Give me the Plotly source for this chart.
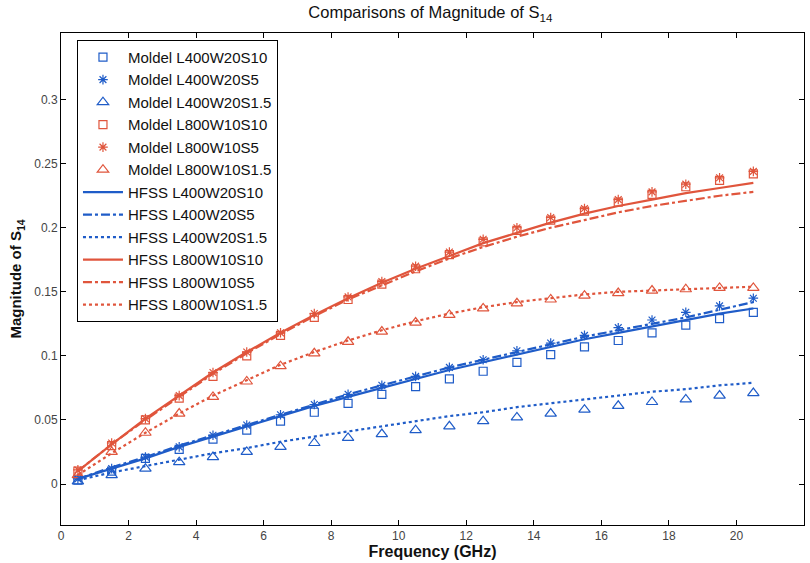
import plotly.graph_objects as go

freq = [0.5, 1.5, 2.5, 3.5, 4.5, 5.5, 6.5, 7.5, 8.5, 9.5, 10.5, 11.5, 12.5, 13.5, 14.5, 15.5, 16.5, 17.5, 18.5, 19.5, 20.5]

# Model (markers)
model_l400_s10 = [0.003, 0.010, 0.020, 0.027, 0.035, 0.042, 0.049, 0.056, 0.063, 0.070, 0.076, 0.082, 0.088, 0.095, 0.101, 0.107, 0.112, 0.118, 0.124, 0.129, 0.134]
model_l400_s5 = [0.004, 0.012, 0.021, 0.029, 0.038, 0.046, 0.054, 0.062, 0.070, 0.077, 0.084, 0.091, 0.097, 0.104, 0.110, 0.116, 0.122, 0.128, 0.134, 0.139, 0.145]
model_l400_s15 = [0.002, 0.007, 0.012, 0.017, 0.021, 0.025, 0.029, 0.032, 0.036, 0.039, 0.042, 0.045, 0.049, 0.052, 0.055, 0.058, 0.061, 0.064, 0.066, 0.069, 0.071]
model_l800_s10 = [0.010, 0.030, 0.050, 0.067, 0.084, 0.100, 0.116, 0.130, 0.144, 0.156, 0.168, 0.179, 0.189, 0.198, 0.206, 0.213, 0.220, 0.226, 0.232, 0.237, 0.242]
model_l800_s5 = [0.011, 0.032, 0.051, 0.069, 0.087, 0.103, 0.118, 0.133, 0.146, 0.158, 0.170, 0.181, 0.191, 0.200, 0.208, 0.215, 0.222, 0.228, 0.234, 0.239, 0.244]
model_l800_s15 = [0.007, 0.025, 0.040, 0.055, 0.068, 0.080, 0.092, 0.102, 0.111, 0.119, 0.126, 0.132, 0.137, 0.141, 0.144, 0.147, 0.149, 0.151, 0.152, 0.153, 0.153]

# HFSS (lines)
hfss_l400_s10 = [0.004, 0.012, 0.020, 0.029, 0.037, 0.045, 0.053, 0.061, 0.068, 0.075, 0.082, 0.089, 0.095, 0.101, 0.107, 0.113, 0.118, 0.123, 0.128, 0.133, 0.137]
hfss_l400_s5 = [0.004, 0.013, 0.021, 0.030, 0.038, 0.046, 0.054, 0.062, 0.070, 0.077, 0.084, 0.091, 0.097, 0.103, 0.109, 0.115, 0.120, 0.125, 0.130, 0.136, 0.142]
hfss_l400_s15 = [0.003, 0.009, 0.014, 0.019, 0.024, 0.028, 0.033, 0.037, 0.041, 0.045, 0.049, 0.053, 0.056, 0.060, 0.063, 0.066, 0.069, 0.072, 0.074, 0.077, 0.079]
hfss_l800_s10 = [0.010, 0.031, 0.051, 0.069, 0.087, 0.103, 0.118, 0.132, 0.145, 0.157, 0.168, 0.178, 0.188, 0.196, 0.204, 0.211, 0.217, 0.222, 0.227, 0.231, 0.235]
hfss_l800_s5 = [0.010, 0.031, 0.050, 0.068, 0.086, 0.102, 0.117, 0.131, 0.144, 0.155, 0.166, 0.176, 0.185, 0.193, 0.200, 0.206, 0.212, 0.217, 0.221, 0.225, 0.228]
hfss_l800_s15 = [0.007, 0.024, 0.040, 0.055, 0.069, 0.081, 0.093, 0.103, 0.112, 0.120, 0.127, 0.133, 0.138, 0.142, 0.145, 0.148, 0.150, 0.151, 0.152, 0.153, 0.154]

x_ticks = [0, 2, 4, 6, 8, 10, 12, 14, 16, 18, 20, 22]
y_ticks = [0, 0.05, 0.1, 0.15, 0.2, 0.25, 0.3]
y_tick_labels = ["0", "0.05", "0.1", "0.15", "0.2", "0.25", "0.3"]

BLUE = "#1f5cc8"
RED = "#e0553c"

fig = go.Figure()

models = [
    ("Moldel L400W20S10", model_l400_s10, BLUE, "square-open", 8),
    ("Moldel L400W20S5", model_l400_s5, BLUE, "asterisk-open", 8),
    ("Moldel L400W20S1.5", model_l400_s15, BLUE, "triangle-up-open", 10),
    ("Moldel L800W10S10", model_l800_s10, RED, "square-open", 8),
    ("Moldel L800W10S5", model_l800_s5, RED, "asterisk-open", 8),
    ("Moldel L800W10S1.5", model_l800_s15, RED, "triangle-up-open", 10),
]
for name, ys, col, sym, sz in models:
    fig.add_trace(go.Scatter(x=freq, y=ys, mode="markers", name=name,
                             marker=dict(symbol=sym, size=sz, color=col,
                                         line=dict(color=col, width=1.2))))

hfss = [
    ("HFSS L400W20S10", hfss_l400_s10, BLUE, "solid"),
    ("HFSS L400W20S5", hfss_l400_s5, BLUE, "dashdot"),
    ("HFSS L400W20S1.5", hfss_l400_s15, BLUE, "dot"),
    ("HFSS L800W10S10", hfss_l800_s10, RED, "solid"),
    ("HFSS L800W10S5", hfss_l800_s5, RED, "dashdot"),
    ("HFSS L800W10S1.5", hfss_l800_s15, RED, "dot"),
]
for name, ys, col, dash in hfss:
    fig.add_trace(go.Scatter(x=freq, y=ys, mode="lines", name=name,
                             line=dict(color=col, width=2.2, dash=dash)))

axis_common = dict(showline=True, linecolor="black", linewidth=1, mirror="ticks",
                   ticks="inside", ticklen=5, tickcolor="black", showgrid=False,
                   zeroline=False, tickfont=dict(family="Liberation Sans Narrow, Arial", size=12, color="#444"))

fig.update_layout(
    width=810, height=563,
    margin=dict(l=61, r=5, t=33, b=28),
    paper_bgcolor="white", plot_bgcolor="white",
    font=dict(family="Liberation Sans, Arial", color="#111"),
    title=dict(text="Comparisons of Magnitude of S<sub>14</sub>", x=0.5313, xanchor="center",
               y=0.978, yanchor="middle", font=dict(size=16.5, color="#111")),
    xaxis=dict(range=[0, 22], tickvals=x_ticks, ticktext=[str(v) for v in x_ticks],
               title=dict(text="<b>Frequency (GHz)</b>", font=dict(size=16), standoff=3),
               **axis_common),
    yaxis=dict(range=[-0.032, 0.352], tickvals=y_ticks, ticktext=y_tick_labels,
               title=dict(text="<b>Magnitude of S<sub>14</sub></b>", font=dict(size=15), standoff=8),
               **axis_common),
    legend=dict(x=0.0215, y=0.986, xanchor="left", yanchor="top",
                bgcolor="white", bordercolor="black", borderwidth=1,
                font=dict(size=15, color="#111"), tracegroupgap=0,
                itemwidth=40),
    showlegend=True,
)

fig.write_html("out.html")
